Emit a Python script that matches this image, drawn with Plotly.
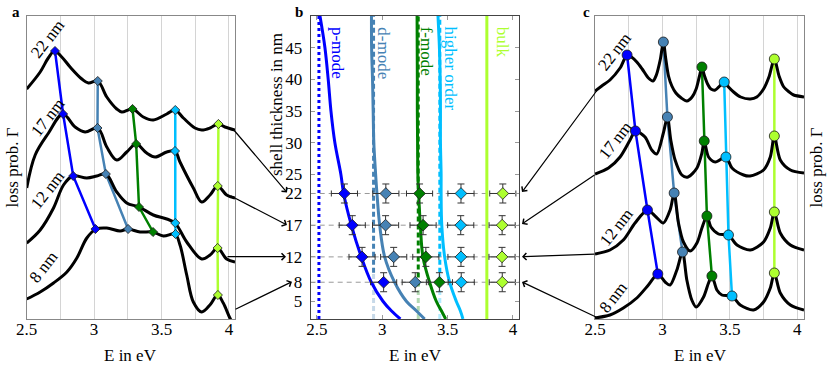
import plotly.graph_objects as go

W, H = 830, 365
FONT = "Liberation Serif"

C_P, C_D, C_F, C_H, C_B = "#0000ff", "#4682b4", "#008000", "#00bfff", "#adff2f"
MODE_COLORS = [C_P, C_D, C_F, C_H, C_B]
MODE_NAMES = ["p-mode", "d-mode", "f-mode", "higher order", "bulk"]

size_labels = ["22 nm", "17 nm", "12 nm", "8 nm"]
thickness = [22, 17, 12, 8]

# ---------------- panel a: measured spectra (E in eV, loss prob. arb. units)
a22_E = [2.50, 2.60, 2.66, 2.706, 2.76, 2.822, 2.909, 2.958, 3.027, 3.094, 3.168, 3.205, 3.284, 3.365,
         3.439, 3.539, 3.60, 3.662, 3.748, 3.798, 3.86, 3.921, 3.97, 4.045]
a22_L = [230, 247, 261, 268, 262, 252, 240, 236, 238, 222, 210, 207, 210, 202,
         199, 205, 209, 201, 191, 189, 191, 195, 192, 189]
a17_E = [2.50, 2.563, 2.662, 2.768, 2.859, 2.933, 3.027, 3.094, 3.168, 3.242, 3.311, 3.39, 3.452,
         3.539, 3.60, 3.637, 3.736, 3.798, 3.86, 3.916, 3.983, 4.045]
a17_L = [131, 164, 186, 205, 192, 187, 191, 172, 159, 167, 175, 166, 162,
         167, 168, 157, 131, 117, 124, 133, 124, 121]
a12_E = [2.50, 2.60, 2.699, 2.773, 2.842, 2.946, 3.02, 3.087, 3.168, 3.242, 3.333, 3.439, 3.539,
         3.60, 3.687, 3.798, 3.86, 3.916, 3.983, 4.045]
a12_L = [76, 89, 111, 134, 143, 141, 143, 145, 127, 116, 112, 104, 100,
         96, 77, 60, 64, 71, 60, 57]
a8_E = [2.50, 2.60, 2.699, 2.798, 2.872, 2.946, 3.015, 3.094, 3.193, 3.249, 3.341, 3.435, 3.514,
        3.60, 3.637, 3.687, 3.736, 3.798, 3.859, 3.916, 3.958, 4.007, 4.045]
a8_L = [20, 27, 36, 47, 61, 81, 90, 91, 88, 90, 87, 87, 83,
        85, 74, 44, 17, 7, 14, 24, 16, 1, -8]

# peak energies (measured), per mode, for 22/17/12/8 nm
peak_p = [2.71, 2.77, 2.845, 3.01]
peak_d = [3.027, 3.025, 3.087, 3.252]
peak_f = [3.285, 3.312, 3.333, 3.437]
peak_h = [3.602, 3.600, 3.602, 3.604]
peak_b = [3.922, 3.917, 3.916, 3.918]
a_peak_L = {
    "p": [268, 205, 143, 90],
    "d": [238, 191, 145, 90],
    "f": [210, 175, 112, 87],
    "h": [209, 168, 96, 85],
    "b": [195, 133, 71, 24],
}
err_E = 0.1
err_t = 1.5

# ---------------- panel b: simulated dispersion (thickness vs E)
b_thick = [50, 45, 40, 35, 30, 25, 22, 17, 12, 8, 5, 3.5, 2.2]
b_p = [2.523, 2.561, 2.586, 2.607, 2.637, 2.683, 2.704, 2.763, 2.839, 2.916, 3.005, 3.069, 3.138]
b_d = [2.917, 2.918, 2.925, 2.93, 2.935, 2.949, 2.959, 2.98, 3.018, 3.094, 3.184, 3.26, 3.324]
b_f = [3.266, 3.267, 3.268, 3.268, 3.27, 3.272, 3.278, 3.291, 3.311, 3.362, 3.413, 3.452, 3.485]
b_h = [3.426, 3.437, 3.443, 3.445, 3.445, 3.45, 3.45, 3.455, 3.477, 3.515, 3.566, 3.597, 3.617]
bulk_E = 3.80
asym_E = [2.515, 2.933, 3.275, 3.44]
asym_fade = [None, 9.5, 7.5, 9.5]

# ---------------- panel c: simulated spectra
c22_E = [2.50, 2.55, 2.611, 2.686, 2.738, 2.77, 2.81, 2.85, 2.896, 2.93, 2.955, 2.985, 3.007, 3.025, 3.045,
         3.07, 3.10, 3.14, 3.181, 3.22, 3.25, 3.275, 3.293, 3.31, 3.335, 3.36, 3.392, 3.425, 3.458,
         3.49, 3.528, 3.58, 3.652, 3.70, 3.75, 3.79, 3.83, 3.865, 3.90, 3.94, 3.973, 4.05]
c22_L = [228, 233, 239, 251, 264, 262, 257, 250, 241, 238, 244, 260, 277, 260, 243,
         233, 226, 221, 218, 222, 230, 243, 252, 244, 235, 230, 229, 233, 237,
         232, 227, 222, 220, 222, 230, 242, 260, 243, 232, 227, 224, 222]
c17_E = [2.50, 2.60, 2.686, 2.76, 2.80, 2.871, 2.921, 2.958, 3.007, 3.037, 3.062, 3.094, 3.144, 3.19,
         3.256, 3.293, 3.31, 3.342, 3.392, 3.471, 3.516, 3.602, 3.65, 3.75, 3.80, 3.83, 3.874,
         3.949, 4.05]
c17_L = [145, 151, 162, 179, 188, 182, 169, 165, 186, 202, 179, 159, 144, 142,
         151, 166, 178, 162, 157, 162, 151, 144, 143, 149, 162, 183, 159,
         149, 146]
c12_E = [2.50, 2.611, 2.71, 2.797, 2.889, 2.953, 3.007, 3.057, 3.087, 3.119, 3.156, 3.206, 3.256,
         3.293, 3.33, 3.36, 3.416, 3.49, 3.553, 3.652, 3.75, 3.80, 3.83, 3.874, 3.949, 4.05]
c12_L = [65, 69, 79, 96, 109, 102, 96, 109, 126, 96, 77, 68, 76,
         91, 103, 92, 85, 84, 74, 69, 77, 91, 107, 86, 74, 69]
c8_E = [2.50, 2.611, 2.71, 2.81, 2.896, 2.966, 3.02, 3.057, 3.107, 3.149, 3.181, 3.218, 3.25, 3.305,
        3.342, 3.367, 3.404, 3.441, 3.516, 3.577, 3.676, 3.75, 3.80, 3.83, 3.874, 3.949, 4.05]
c8_L = [1, 4, 11, 21, 34, 45, 37, 34, 49, 67, 39, 19, 12, 22,
        36, 43, 29, 24, 23, 14, 9, 17, 31, 46, 26, 14, 9]

c_peak_E = {
    "p": [2.738, 2.80, 2.889, 2.966],
    "d": [3.007, 3.037, 3.087, 3.149],
    "f": [3.293, 3.31, 3.33, 3.367],
    "h": [3.458, 3.471, 3.49, 3.516],
    "b": [3.83, 3.83, 3.83, 3.83],
}
c_peak_L = {
    "p": [264, 188, 109, 45],
    "d": [277, 202, 126, 67],
    "f": [252, 178, 103, 43],
    "h": [237, 162, 84, 23],
    "b": [260, 183, 107, 46],
}

# ---------------------------------------------------------------------------
def px(x):
    return x / W


def py(y):
    return 1 - y / H


fig = go.Figure()
keys = ["p", "d", "f", "h", "b"]
peaks = {"p": peak_p, "d": peak_d, "f": peak_f, "h": peak_h, "b": peak_b}

# ---- panel a
for k, col in zip(keys, MODE_COLORS):
    fig.add_trace(go.Scatter(x=peaks[k], y=a_peak_L[k], mode="lines",
                             line=dict(color=col, width=2.5), xaxis="x", yaxis="y",
                             showlegend=False, hoverinfo="skip"))
for E, L in [(a22_E, a22_L), (a17_E, a17_L), (a12_E, a12_L), (a8_E, a8_L)]:
    fig.add_trace(go.Scatter(x=E, y=L, mode="lines", line=dict(color="black", width=3, shape="spline"),
                             xaxis="x", yaxis="y", showlegend=False))
for k, col in zip(keys, MODE_COLORS):
    fig.add_trace(go.Scatter(x=peaks[k], y=a_peak_L[k], mode="markers",
                             marker=dict(symbol="diamond", size=7, color=col,
                                         line=dict(color="#1a1a1a", width=0.8)),
                             xaxis="x", yaxis="y", showlegend=False))

# ---- panel b
for t in thickness:
    fig.add_trace(go.Scatter(x=[2.452, 4.046], y=[t, t], mode="lines",
                             line=dict(color="#999999", width=1, dash="5px,4px"),
                             xaxis="x2", yaxis="y2", showlegend=False, hoverinfo="skip"))
dashes = ["3px,3px", "5px,3px", "5px,3px", "5px,3px"]
for E0, fade, col, dsh in zip(asym_E, asym_fade, MODE_COLORS[:4], dashes):
    if fade is None:
        fig.add_trace(go.Scatter(x=[E0, E0], y=[2.2, 50], mode="lines",
                                 line=dict(color=col, width=3, dash=dsh),
                                 xaxis="x2", yaxis="y2", showlegend=False))
    else:
        fig.add_trace(go.Scatter(x=[E0, E0], y=[fade, 50], mode="lines",
                                 line=dict(color=col, width=3, dash=dsh),
                                 xaxis="x2", yaxis="y2", showlegend=False))
        fig.add_trace(go.Scatter(x=[E0, E0], y=[2.2, fade], mode="lines", opacity=0.3,
                                 line=dict(color=col, width=3, dash=dsh),
                                 xaxis="x2", yaxis="y2", showlegend=False))
for Es, col in zip([b_p, b_d, b_f, b_h], MODE_COLORS[:4]):
    fig.add_trace(go.Scatter(x=Es, y=b_thick, mode="lines", line=dict(color=col, width=3, shape="spline"),
                             xaxis="x2", yaxis="y2", showlegend=False))
fig.add_trace(go.Scatter(x=[bulk_E, bulk_E], y=[2.2, 50], mode="lines", line=dict(color=C_B, width=3),
                         xaxis="x2", yaxis="y2", showlegend=False))
for k, col in zip(keys, MODE_COLORS):
    fig.add_trace(go.Scatter(
        x=peaks[k], y=thickness, mode="markers",
        marker=dict(symbol="diamond", size=9, color=col, line=dict(color="#1a1a1a", width=0.8)),
        error_x=dict(type="constant", value=err_E, color="#333333", thickness=1, width=3),
        error_y=dict(type="constant", value=err_t, color="#333333", thickness=1, width=3.5),
        xaxis="x2", yaxis="y2", showlegend=False))

# ---- panel c
for k, col in zip(keys, MODE_COLORS):
    fig.add_trace(go.Scatter(x=c_peak_E[k], y=c_peak_L[k], mode="lines",
                             line=dict(color=col, width=2.5), xaxis="x3", yaxis="y3",
                             showlegend=False, hoverinfo="skip"))
for E, L in [(c22_E, c22_L), (c17_E, c17_L), (c12_E, c12_L), (c8_E, c8_L)]:
    fig.add_trace(go.Scatter(x=E, y=L, mode="lines",
                             line=dict(color="black", width=3, shape="spline", smoothing=0.8),
                             xaxis="x3", yaxis="y3", showlegend=False))
for k, col in zip(keys, MODE_COLORS):
    fig.add_trace(go.Scatter(x=c_peak_E[k], y=c_peak_L[k], mode="markers",
                             marker=dict(symbol="circle", size=10, color=col,
                                         line=dict(color="#1a1a1a", width=0.8)),
                             xaxis="x3", yaxis="y3", showlegend=False))

# ---- axes
TICKFONT = dict(family=FONT, size=17, color="black")
ydom = [py(319), py(16)]
spec_x = dict(tickvals=[2.5, 3, 3.5, 4], ticktext=["2.5", "3", "3.5", "4"], ticks="",
              tickfont=TICKFONT,
              showgrid=True, gridcolor="#d4d4d4", gridwidth=1,
              minor=dict(dtick=0.25, tick0=2.5, showgrid=True, gridcolor="#d4d4d4", gridwidth=1),
              showline=True, mirror=True, linecolor="#888888", linewidth=1,
              zeroline=False, automargin=False, ticklabelstandoff=-5)
spec_y = dict(range=[0, 303], domain=ydom, showticklabels=False, showgrid=False, zeroline=False,
              showline=True, mirror=True, linecolor="#888888", linewidth=1, ticks="", automargin=False)

fig.update_layout(
    width=W, height=H, margin=dict(l=0, r=0, t=0, b=0),
    paper_bgcolor="white", plot_bgcolor="white",
    font=dict(family=FONT, size=17, color="black"),
    xaxis=dict(domain=[px(26.7), px(235)], range=[2.5, 4.045], anchor="y", **spec_x),
    yaxis=dict(anchor="x", **spec_y),
    xaxis2=dict(domain=[px(310.7), px(519)], range=[2.452, 4.046], anchor="y2",
                tickvals=[2.5, 3, 3.5, 4], ticktext=["2.5", "3", "3.5", "4"], tickfont=TICKFONT,
                ticks="inside", ticklen=4, tickcolor="#999999", mirror="ticks",
                showline=True, linecolor="#444444", linewidth=1, showgrid=False, zeroline=False,
                automargin=False, ticklabelstandoff=-5),
    yaxis2=dict(domain=ydom, range=[2.2, 50], anchor="x2",
                tickvals=[5, 8, 12, 17, 22, 25, 30, 35, 40, 45], tickfont=TICKFONT,
                ticks="inside", ticklen=4, tickcolor="#999999", mirror="ticks",
                showline=True, linecolor="#444444", linewidth=1, showgrid=False, zeroline=False,
                automargin=False, ticklabelstandoff=4),
    xaxis3=dict(domain=[px(595), px(804)], range=[2.5, 4.05], anchor="y3", **spec_x),
    yaxis3=dict(anchor="x3", **spec_y),
)

ann = []
# axis titles
for xc in [130, 415, 700]:
    ann.append(dict(text="E in eV", x=px(xc), y=py(355), xref="paper", yref="paper",
                    showarrow=False, xanchor="center", yanchor="middle"))
ann.append(dict(text="loss prob. Γ", x=px(12), y=py(167.5), xref="paper", yref="paper",
                showarrow=False, textangle=-90, xanchor="center", yanchor="middle"))
ann.append(dict(text="loss prob. Γ", x=px(816), y=py(167.5), xref="paper", yref="paper",
                showarrow=False, textangle=-90, xanchor="center", yanchor="middle"))
ann.append(dict(text="shell thickness in nm", x=px(276), y=py(105), xref="paper", yref="paper",
                showarrow=False, textangle=-90, xanchor="center", yanchor="middle"))
# panel letters
for lab, (xx, yy) in zip(["a", "b", "c"], [(16, 12), (299, 12), (586, 12)]):
    ann.append(dict(text="<b>" + lab + "</b>", x=px(xx), y=py(yy), xref="paper", yref="paper",
                    showarrow=False, xanchor="center", yanchor="middle", font=dict(size=15)))
# spectrum labels
for lab, (xx, yy) in zip(size_labels, [(47, 39), (47.5, 117), (47, 190), (43, 267)]):
    ann.append(dict(text=lab, x=px(xx), y=py(yy), xref="paper", yref="paper", showarrow=False,
                    textangle=-52, xanchor="center", yanchor="middle"))
for lab, (xx, yy) in zip(size_labels, [(615, 52), (615, 140), (616, 227), (613, 297)]):
    ann.append(dict(text=lab.replace(" ", "\u2009"), x=px(xx), y=py(yy), xref="paper", yref="paper",
                    showarrow=False, textangle=-52, xanchor="center", yanchor="middle"))
# mode labels in b
for lab, col, E in zip(MODE_NAMES, MODE_COLORS, [2.653, 3.01, 3.34, 3.52, 3.92]):
    ann.append(dict(text=lab, x=E, y=48.6, xref="x2", yref="y2", showarrow=False,
                    textangle=90, xanchor="center", yanchor="top", font=dict(color=col)))
# arrows a -> b
for (tx, ty), (hx, hy) in zip([(233, 129), (229, 195), (226, 256.7), (234, 310)],
                              [(287, 192.5), (287, 225), (286, 256.7), (292, 281.7)]):
    ann.append(dict(text="", x=px(hx), y=py(hy), xref="paper", yref="paper", showarrow=True,
                    ax=tx - hx, ay=ty - hy, axref="pixel", ayref="pixel",
                    arrowhead=4, arrowsize=1.1, arrowwidth=1.2, arrowcolor="black", standoff=0))
# arrows c -> b
for (tx, ty), (hx, hy) in zip([(598, 89), (596, 174), (596, 254), (598, 318)],
                              [(522, 192), (522, 224), (522, 256.7), (522, 282)]):
    ann.append(dict(text="", x=px(hx), y=py(hy), xref="paper", yref="paper", showarrow=True,
                    ax=tx - hx, ay=ty - hy, axref="pixel", ayref="pixel",
                    arrowhead=4, arrowsize=1.1, arrowwidth=1.2, arrowcolor="black", standoff=0))
fig.update_layout(annotations=ann)

fig.write_html("out.html", config={"displayModeBar": False},
               post_script="document.body.style.margin='0px';document.body.style.overflow='hidden';")
